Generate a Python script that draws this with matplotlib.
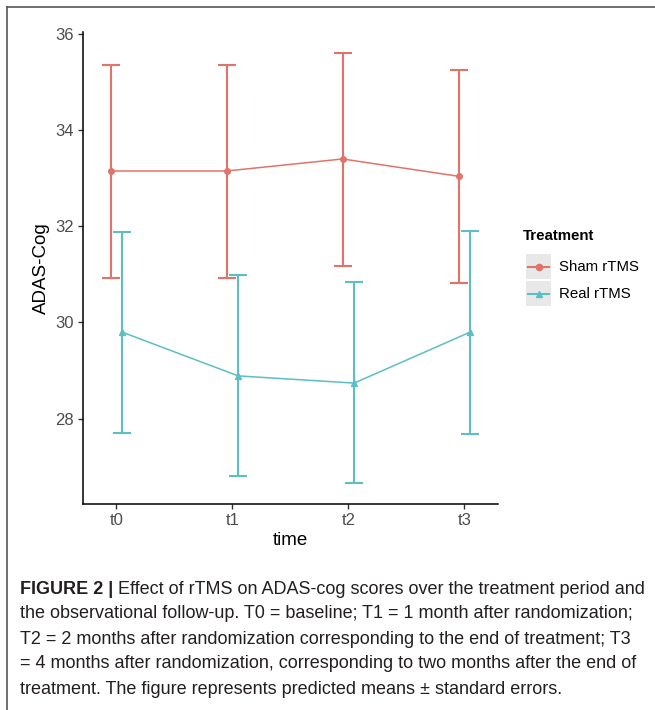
import matplotlib
matplotlib.use('Agg')
import numpy as np
import matplotlib.pyplot as plt
from matplotlib.lines import Line2D

plt.rcParams['font.family'] = ['Liberation Sans', 'DejaVu Sans']

# Data
time_labels = ['t0', 't1', 't2', 't3']
sham_mean = [33.15, 33.15, 33.40, 33.04]
sham_low = [30.93, 30.93, 31.18, 30.83]
sham_high = [35.36, 35.36, 35.61, 35.26]
real_mean = [29.80, 28.89, 28.74, 29.80]
real_low = [27.70, 26.81, 26.67, 27.68]
real_high = [31.88, 30.99, 30.84, 31.91]
y_ticks = [28, 30, 32, 34, 36]

caption_bold = 'FIGURE 2 | '
caption_lines = [
    'Effect of rTMS on ADAS-cog scores over the treatment period and',
    'the observational follow-up. T0 = baseline; T1 = 1 month after randomization;',
    'T2 = 2 months after randomization corresponding to the end of treatment; T3',
    '= 4 months after randomization, corresponding to two months after the end of',
    'treatment. The figure represents predicted means \u00b1 standard errors.',
]

red = '#E2736A'
teal = '#5BBFC4'
W, H = 655, 710

fig = plt.figure(figsize=(W / 100, H / 100), dpi=100)
ax = fig.add_axes([82.7 / W, 1 - 504.3 / H, (498 - 82.7) / W, (504.3 - 32) / H])

x = np.arange(len(time_labels))
dodge = 0.05

for mean, lo, hi, col, mk, ms, off in [
    (sham_mean, sham_low, sham_high, red, 'o', 4, -dodge),
    (real_mean, real_low, real_high, teal, '^', 4.5, dodge),
]:
    mean = np.array(mean)
    yerr = [mean - np.array(lo), np.array(hi) - mean]
    ax.errorbar(x + off, mean, yerr=yerr, color=col, elinewidth=1.5, capsize=6.2,
                capthick=1.5, lw=1.1, marker=mk, ms=ms, mec=col, mfc=col)

ax.set_xlim(-0.29, 3.29)
ax.set_ylim(26.22, 36.04)
ax.set_xticks(x)
ax.set_xticklabels(time_labels)
ax.set_yticks(y_ticks)
for s in ['top', 'right']:
    ax.spines[s].set_visible(False)
for s in ['left', 'bottom']:
    ax.spines[s].set_linewidth(1.1)
ax.tick_params(length=3.5, width=1.0, color='#333333', labelsize=12,
               labelcolor='#4D4D4D', pad=3)
ax.set_xlabel('time', fontsize=13.5, labelpad=3)
ax.set_ylabel('ADAS-Cog', fontsize=13.5, labelpad=4)

# legend
fig.text(523 / W, 1 - 236 / H, 'Treatment', fontsize=10.8, fontweight='bold',
         va='center', ha='left')
for i, (lab, col, mk) in enumerate([('Sham rTMS', red, 'o'), ('Real rTMS', teal, '^')]):
    top = 254 + i * 27
    kax = fig.add_axes([526 / W, 1 - (top + 25) / H, 25 / W, 25 / H])
    kax.set_facecolor('#E8E8E8')
    kax.set_xlim(0, 1)
    kax.set_ylim(0, 1)
    kax.plot([0.08, 0.92], [0.5, 0.5], color=col, lw=1.5)
    kax.plot([0.5], [0.5], marker=mk, color=col, ms=4.5)
    kax.set_xticks([])
    kax.set_yticks([])
    for s in kax.spines.values():
        s.set_visible(False)
    fig.text(559 / W, 1 - (top + 12.5) / H, lab, fontsize=10.8, va='center', ha='left')

# frame
fig.add_artist(Line2D([7 / W, 1], [1 - 6.5 / H, 1 - 6.5 / H], color='#555555', lw=1.2))
fig.add_artist(Line2D([7 / W, 7 / W], [0, 1 - 6.5 / H], color='#555555', lw=1.2))

# caption
cap_size = 13
renderer = fig.canvas.get_renderer()
line_y = [589, 614, 639, 664, 689]
t = fig.text(20 / W, 1 - line_y[0] / H, caption_bold, fontsize=cap_size,
             fontweight='bold', va='center', ha='left', color='#231F20')
bb = t.get_window_extent(renderer)
fig.text(bb.x1 / W, 1 - line_y[0] / H, caption_lines[0], fontsize=cap_size,
         va='center', ha='left', color='#231F20')
for ly, txt in zip(line_y[1:], caption_lines[1:]):
    fig.text(20 / W, 1 - ly / H, txt, fontsize=cap_size, va='center', ha='left',
             color='#231F20')

fig.savefig('out.png', dpi=100)
